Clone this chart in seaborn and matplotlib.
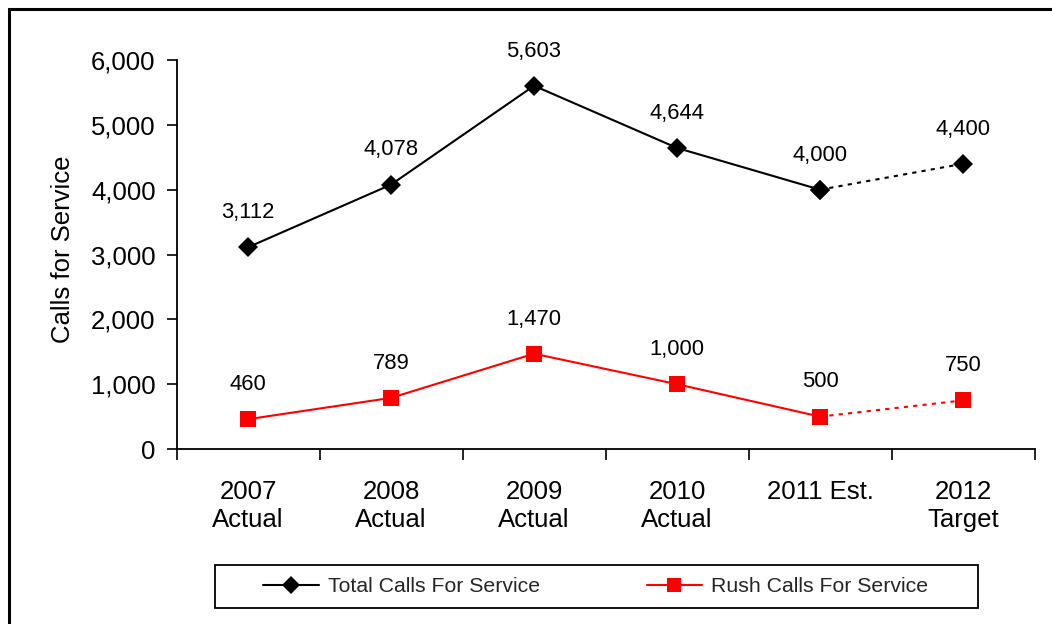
import matplotlib
matplotlib.use('Agg')
import matplotlib.pyplot as plt
import seaborn as sns
import pandas as pd
from matplotlib.lines import Line2D
from matplotlib.patches import Rectangle
from matplotlib.ticker import FuncFormatter, MultipleLocator

# Chart data
periods = ['2007\nActual', '2008\nActual', '2009\nActual', '2010\nActual', '2011 Est.', '2012\nTarget']
total_calls = [3112, 4078, 5603, 4644, 4000, 4400]
rush_calls = [460, 789, 1470, 1000, 500, 750]

sns.set_theme(style="ticks")
plt.rcParams['font.family'] = ['Liberation Sans', 'DejaVu Sans']

df = pd.DataFrame({'pos': range(len(periods)), 'period': periods,
                   'total': total_calls, 'rush': rush_calls})
actual = df.iloc[:5]
projected = df.iloc[4:]

fig = plt.figure(figsize=(10.52, 6.24), dpi=100)
ax = fig.add_axes([0.1678, 0.2804, 0.8156, 0.6234])

series = [('total', 'black', 'D', 10.5), ('rush', '#ff0000', 's', 12)]
for col, color, mk, ms in series:
    sns.lineplot(data=actual, x='pos', y=col, color=color, linewidth=1.5,
                 marker=mk, markersize=ms, markeredgewidth=0, ax=ax)
    sns.lineplot(data=projected, x='pos', y=col, color=color, linewidth=1.5,
                 linestyle=(0, (2, 2.5)), marker=mk, markersize=ms,
                 markeredgewidth=0, ax=ax)
    for i, v in zip(df['pos'], df[col]):
        ax.annotate(f'{v:,}', (i, v), xytext=(0, 21), textcoords='offset points',
                    ha='center', va='baseline', fontsize=15.8, color='black')

# Axes styling
sns.despine(ax=ax)
for side in ['left', 'bottom']:
    ax.spines[side].set_color('black')
    ax.spines[side].set_linewidth(1.3)

ax.set_ylim(0, 6000)
ax.yaxis.set_major_locator(MultipleLocator(1000))
ax.yaxis.set_major_formatter(FuncFormatter(lambda v, p: f'{v:,.0f}'))
ax.tick_params(axis='y', direction='out', length=7, width=1.2, pad=8,
               labelsize=18.5, colors='black')

ax.set_xlim(-0.5, len(periods) - 0.5)
ax.set_xticks(df['pos'])
ax.set_xticklabels(periods)
ax.set_xticks([i - 0.5 for i in range(len(periods) + 1)], minor=True)
ax.tick_params(axis='x', which='major', length=0, pad=22, labelsize=18.5, colors='black')
ax.tick_params(axis='x', which='minor', direction='out', length=8, width=1.2, colors='black')
for t in ax.get_xticklabels():
    t.set_linespacing(1.25)

ax.set_xlabel('')
ax.set_ylabel('Calls for Service', fontsize=18.5, color='black')
ax.yaxis.set_label_coords(-0.118, 0.514)
ax.grid(False)

# Legend in its own box
handles = [
    Line2D([], [], color='black', lw=1.5, marker='D', markersize=9, markeredgewidth=0),
    Line2D([], [], color='#ff0000', lw=1.5, marker='s', markersize=10, markeredgewidth=0),
]
fig.legend(handles, ['Total Calls For Service', 'Rush Calls For Service'],
           loc='center', bbox_to_anchor=(596 / 1052, 1 - 587 / 624), ncol=2,
           frameon=False, fontsize=15.3, handlelength=2.6, handletextpad=0.45,
           columnspacing=5.0)
fig.patches.append(Rectangle((215 / 1052, 1 - 608 / 624), 763 / 1052, 43 / 624,
                             transform=fig.transFigure, fill=False,
                             edgecolor='black', linewidth=1.3))

# Outer frame
fig.patches.append(Rectangle((8.5 / 1052, -0.1), 1.2, 1.1 - 8.5 / 624,
                             transform=fig.transFigure, fill=False,
                             edgecolor='black', linewidth=2.2))

fig.savefig('out.png', dpi=100)
print("Saved: out.png")
